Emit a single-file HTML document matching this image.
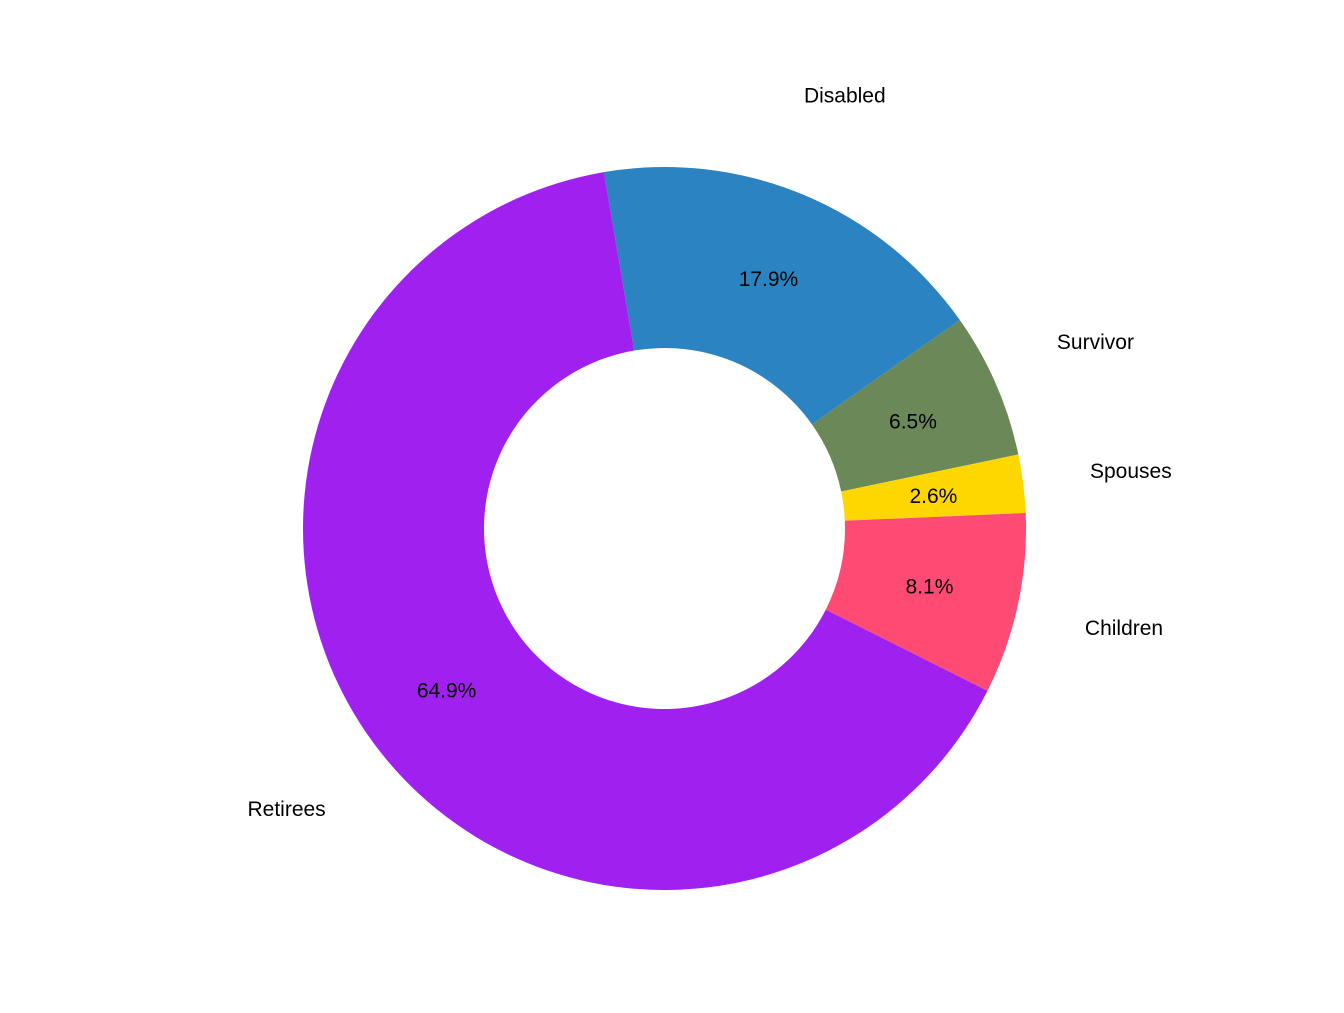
<!DOCTYPE html>
<html><head><meta charset="utf-8"><style>
html,body{margin:0;padding:0;background:#fff;}
svg text{font-family:"Liberation Sans",Arial,sans-serif;font-size:21px;fill:#000;}
</style></head><body>
<svg id="chart" width="1344" height="1008" viewBox="0 0 1344 1008" xmlns="http://www.w3.org/2000/svg">
<g id="slices"></g>
<g id="labels"></g>
</svg>
<script>
const categories = ["Disabled","Survivor","Spouses","Children","Retirees"];
const values = [17.9, 6.5, 2.6, 8.1, 64.9];
const pctLabels = ["17.9%","6.5%","2.6%","8.1%","64.9%"];
const colors = ["#2B83C1","#6B8859","#FFD700","#FF4A74","#A020F0"];
const cx = 664.5, cy = 528.5, rOut = 361.5, rIn = 180.5, rMid = 271, rLab = 470;
const startDeg = -9.66;
const ns = "http://www.w3.org/2000/svg";
const total = values.reduce((a,b)=>a+b,0);
function pt(r, deg){ const a = deg*Math.PI/180; return [cx + r*Math.sin(a), cy - r*Math.cos(a)]; }
const gS = document.getElementById('slices'), gL = document.getElementById('labels');
let ang = startDeg;
values.forEach((v,i)=>{
  const sweep = v/total*360, a0 = ang, a1 = ang + sweep;
  const large = sweep > 180 ? 1 : 0;
  const p0 = pt(rOut,a0), p1 = pt(rOut,a1), q1 = pt(rIn,a1), q0 = pt(rIn,a0);
  const d = `M${p0[0]},${p0[1]} A${rOut},${rOut} 0 ${large} 1 ${p1[0]},${p1[1]} L${q1[0]},${q1[1]} A${rIn},${rIn} 0 ${large} 0 ${q0[0]},${q0[1]} Z`;
  const path = document.createElementNS(ns,'path');
  path.setAttribute('d', d);
  path.setAttribute('fill', colors[i]);
  
  
  gS.appendChild(path);
  const mid = a0 + sweep/2;
  const m = pt(rMid, mid);
  const t = document.createElementNS(ns,'text');
  t.setAttribute('x', m[0]); t.setAttribute('y', m[1]+8);
  t.setAttribute('text-anchor','middle');
  t.textContent = pctLabels[i];
  
  
  gL.appendChild(t);
  const o = pt(rLab, mid);
  const t2 = document.createElementNS(ns,'text');
  t2.setAttribute('x', o[0]); t2.setAttribute('y', o[1]+8);
  t2.setAttribute('text-anchor','middle');
  t2.textContent = categories[i];
  
  
  gL.appendChild(t2);
  ang = a1;
});
</script>
</body></html>
